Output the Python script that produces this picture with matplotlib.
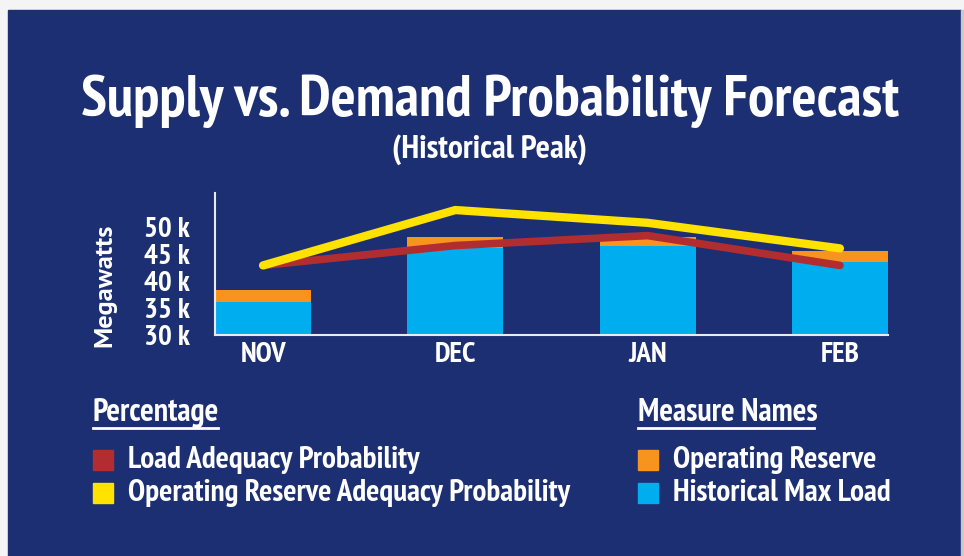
import numpy as np
import matplotlib
matplotlib.use("Agg")
import matplotlib.pyplot as plt
import matplotlib.patches as mpatches
from matplotlib.lines import Line2D

NAVY   = "#1c2f73"
WHITE  = "#ffffff"
BLUE   = "#00aeef"
ORANGE = "#f7941d"
RED    = "#b22d30"
YELLOW = "#ffe200"

COND = ["PT Sans Narrow", "DejaVu Sans"]
WIDE = ["PT Sans", "DejaVu Sans"]

# data
months = ["NOV", "DEC", "JAN", "FEB"]
hist_max_load = [36100, 46200, 46500, 43500]      # MW
operating_reserve = [2200, 1900, 1600, 2000]      # MW, stacked on top
load_adequacy = [49, 63, 70, 49]                  # %
reserve_adequacy = [49, 88, 79, 61]               # %

W, H = 964, 556
fig = plt.figure(figsize=(W / 100, H / 100), dpi=100, facecolor="#f4f4f4")

# background panel, in pixel coordinates
bg = fig.add_axes([0, 0, 1, 1])
bg.set_xlim(0, W)
bg.set_ylim(H, 0)
bg.axis("off")
bg.add_patch(mpatches.Rectangle((8, 10), 953, 546, color=NAVY, zorder=0))
bg.add_patch(mpatches.Rectangle((961, 10), 3, 546, color="#c8c8c8", zorder=0))

bg.text(490, 101, "Supply vs. Demand Probability Forecast", ha="center", va="center",
        color=WHITE, fontsize=42.3, fontweight="bold", family=COND)
bg.text(490, 150, "(Historical Peak)", ha="center", va="center",
        color=WHITE, fontsize=24, fontweight="bold", family=COND)
bg.text(105, 285, "Megawatts", ha="center", va="center", rotation=90,
        color=WHITE, fontsize=19, fontweight="bold", family=WIDE)

# main axes
ax = fig.add_axes([215 / W, 1 - 335 / H, 673 / W, 142 / H])
ax.set_facecolor("none")
x = np.arange(len(months))
ax.bar(x, hist_max_load, width=0.5, color=BLUE, zorder=2)
ax.bar(x, operating_reserve, width=0.5, bottom=hist_max_load, color=ORANGE, zorder=2)
ax.set_xlim(-0.25, 3.25)
ax.set_ylim(30000, 56300)
yticks = [30000, 35000, 40000, 45000, 50000]
ax.set_yticks(yticks)
ax.set_yticklabels([f"{v // 1000} k" for v in yticks])
ax.set_xticks(x)
ax.set_xticklabels(months)
for lab in ax.get_xticklabels() + ax.get_yticklabels():
    lab.set_family(COND)
    lab.set_fontweight("bold")
    lab.set_fontsize(21)
    lab.set_color(WHITE)
ax.tick_params(length=0)
ax.tick_params(axis="y", pad=18)
ax.tick_params(axis="x", pad=5)
for side in ["top", "right"]:
    ax.spines[side].set_visible(False)
for side in ["left", "bottom"]:
    ax.spines[side].set_color("#e8eaf2")
    ax.spines[side].set_linewidth(1.5)

# percentage lines on a hidden twin axis
ax2 = ax.twinx()
ax2.set_ylim(0, 100)
ax2.axis("off")
ax2.plot(x, load_adequacy, color=RED, lw=5.5, solid_capstyle="round", zorder=3)
ax2.plot(x, reserve_adequacy, color=YELLOW, lw=6, solid_capstyle="round", zorder=4)

# legends
def header(xp, yp, text, width):
    bg.text(xp, yp, text, ha="left", va="center", color=WHITE, fontsize=23,
            fontweight="bold", family=COND)
    bg.add_line(Line2D([xp, xp + width], [yp + 15, yp + 15], color=WHITE, lw=2))

def item(xp, yp, color, text):
    bg.add_patch(mpatches.Rectangle((xp, yp - 10), 20, 20, color=color))
    bg.text(xp + 35, yp, text, ha="left", va="center", color=WHITE, fontsize=22.4,
            fontweight="bold", family=COND)

header(93, 413, "Percentage", 125)
item(93, 460, RED, "Load Adequacy Probability")
item(93, 493, YELLOW, "Operating Reserve Adequacy Probability")
header(638, 413, "Measure Names", 176)
item(638, 460, ORANGE, "Operating Reserve")
item(638, 493, BLUE, "Historical Max Load")

fig.savefig("out.png", dpi=100, facecolor=fig.get_facecolor())
